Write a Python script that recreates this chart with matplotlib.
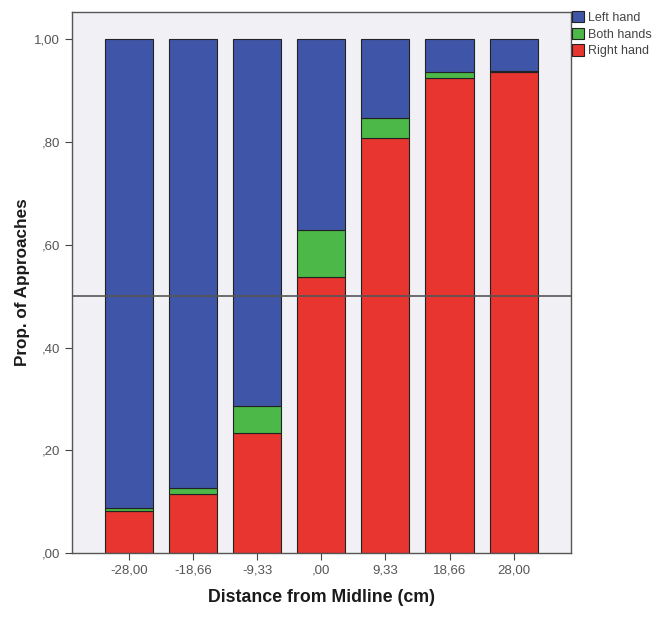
import matplotlib
matplotlib.use("Agg")
import matplotlib.pyplot as plt
import numpy as np

plt.rcParams["font.family"] = ["Liberation Sans", "DejaVu Sans"]

categories = ["-28,00", "-18,66", "-9,33", ",00", "9,33", "18,66", "28,00"]
right_hand = [0.082, 0.115, 0.234, 0.538, 0.807, 0.924, 0.936]
both_hands = [0.006, 0.012, 0.053, 0.090, 0.039, 0.012, 0.003]
left_hand = [1 - r - b for r, b in zip(right_hand, both_hands)]
yticks = [0.0, 0.2, 0.4, 0.6, 0.8, 1.0]
ytick_labels = [",00", ",20", ",40", ",60", ",80", "1,00"]
ref_line = 0.5

c_left = "#3F56A8"
c_both = "#4CB848"
c_right = "#E8352F"

fig = plt.figure(figsize=(6.64, 6.19), dpi=100)
ax = fig.add_axes([0.1084, 0.1066, 0.752, 0.874])
ax.set_facecolor("#F1F1F5")

x = np.arange(len(categories))
w = 0.75
ec = "#222222"
ax.bar(x, right_hand, w, color=c_right, edgecolor=ec, linewidth=0.8, label="Right hand", zorder=2)
ax.bar(x, both_hands, w, bottom=right_hand, color=c_both, edgecolor=ec, linewidth=0.8, label="Both hands", zorder=2)
bot2 = [r + b for r, b in zip(right_hand, both_hands)]
ax.bar(x, left_hand, w, bottom=bot2, color=c_left, edgecolor=ec, linewidth=0.8, label="Left hand", zorder=2)

ax.axhline(ref_line, color="#555555", linewidth=1.2, zorder=3)

ax.set_xlim(-0.89, 6.9)
ax.set_ylim(0, 1.053)
ax.set_xticks(x)
ax.set_xticklabels(categories, fontsize=9.5, color="#555555")
ax.set_yticks(yticks)
ax.set_yticklabels(ytick_labels, fontsize=9.5, color="#555555")
ax.tick_params(direction="out", length=5, color="#444444")
for s in ax.spines.values():
    s.set_color("#555555")
    s.set_linewidth(1.0)

ax.set_xlabel("Distance from Midline (cm)", fontsize=12.8, fontweight="bold", labelpad=9, color="#1a1a1a")
ax.set_ylabel("Prop. of Approaches", fontsize=12.3, fontweight="bold", labelpad=3, color="#1a1a1a")

handles, labels = ax.get_legend_handles_labels()
leg = fig.legend(handles[::-1], labels[::-1], loc="upper left", bbox_to_anchor=(0.861, 0.982),
                 frameon=False, fontsize=9, handlelength=1.0, handleheight=1.0,
                 handletextpad=0.3, labelspacing=0.3, borderaxespad=0, borderpad=0)
for t in leg.get_texts():
    t.set_color("#444444")

fig.savefig("out.png", dpi=100, facecolor="white")
